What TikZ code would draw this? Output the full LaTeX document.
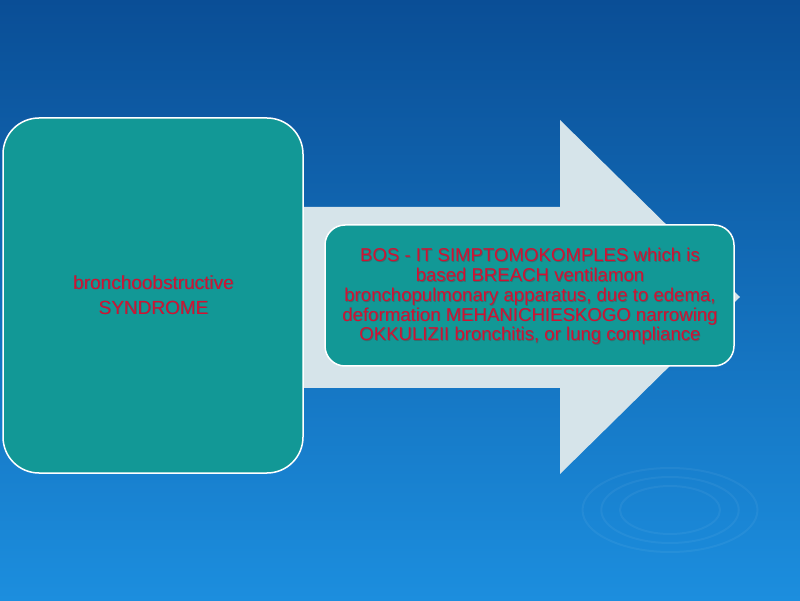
\documentclass[tikz,border=0pt]{standalone}
\usepackage{fontspec}
\setmainfont{Liberation Sans}
\begin{document}
\begin{tikzpicture}[x=1pt,y=1pt,
  box/.style={draw=white, line width=1.5pt, fill=tealbox},
  redtxt/.style={text=redtext, font=\fontsize{18.6}{19.7}\selectfont, align=center, inner sep=0pt},
  redtxtl/.style={text=redtext, font=\fontsize{19}{25}\selectfont, align=center, inner sep=0pt}]
\definecolor{bgtop}{RGB}{10,78,150}
\definecolor{bgbot}{RGB}{28,142,222}
\definecolor{tealbox}{RGB}{18,152,150}
\definecolor{arrowfill}{RGB}{214,228,234}
\definecolor{redtext}{RGB}{212,16,50}
\useasboundingbox (0,0) rectangle (800,600);
\shade[top color=bgtop, bottom color=bgbot] (0,0) rectangle (800,600);
% faint ripples
\foreach \r in {40,55,70}{
  \draw[white, opacity=0.05, line width=2pt] (670,90) ellipse ({\r*1.25} and {\r*0.6});
}
% arrow
\fill[arrowfill] (303,393) -- (560,393) -- (560,480) -- (740,303) -- (560,126) -- (560,212) -- (303,212) -- cycle;
% left box
\draw[box, rounded corners=36pt] (3,127) rectangle (303,482);
% right box
\draw[box, rounded corners=20pt] (325,234) rectangle (734,375);
\node[redtxtl, text=black!70, opacity=0.5] at (154.3,304.3) {bronchoobstructive\\SYNDROME};
\node[redtxtl] (lt) at (153.5,305) {bronchoobstructive\\SYNDROME};
\node[redtxt, text=black!70, opacity=0.5] at (530.8,302.7) {BOS - IT SIMPTOMOKOMPLES which is\\based BREACH ventilamon\\bronchopulmonary apparatus, due to edema,\\deformation MEHANICHIESKOGO narrowing\\OKKULIZII bronchitis, or lung compliance};
\node[redtxt] (rt) at (530,303.5) {BOS - IT SIMPTOMOKOMPLES which is\\based BREACH ventilamon\\bronchopulmonary apparatus, due to edema,\\deformation MEHANICHIESKOGO narrowing\\OKKULIZII bronchitis, or lung compliance};
\end{tikzpicture}
\end{document}
